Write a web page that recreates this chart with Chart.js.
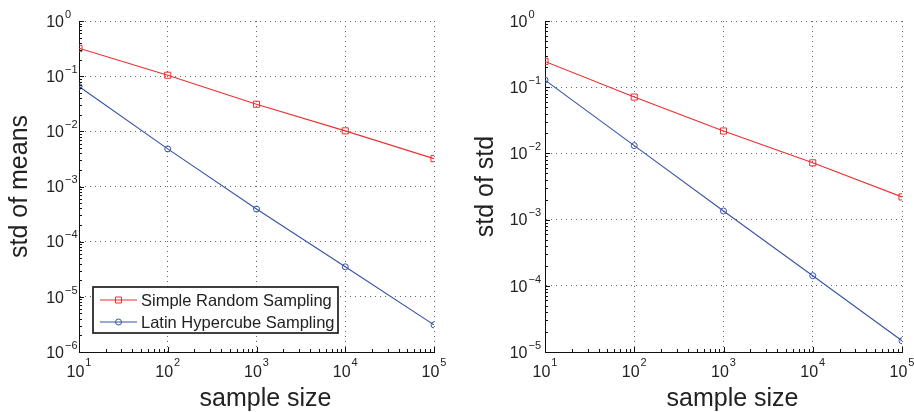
<!DOCTYPE html>
<html>
<head>
<meta charset="utf-8">
<script src="https://cdn.jsdelivr.net/npm/chart.js@4.4.0/dist/chart.umd.min.js"></script>
<style>
  html, body { margin: 0; padding: 0; background: #fff; }
  #wrap { position: relative; width: 914px; height: 412px; }
  canvas { position: absolute; top: 0; }
</style>
</head>
<body>
<div id="wrap">
  <canvas id="chartMeans" width="457" height="412" style="left:0"></canvas>
  <canvas id="chartStd" width="457" height="412" style="left:457px"></canvas>
</div>
<script>
// data
const sampleSizes = [10, 100, 1000, 10000, 100000];
const meansSRS = [0.32, 0.104, 0.031, 0.0102, 0.0032];
const meansLHS = [0.065, 0.0048, 0.00039, 0.000035, 0.0000031];
const stdSRS = [0.245, 0.071, 0.0218, 0.0072, 0.0022];
const stdLHS = [0.128, 0.0131, 0.00135, 0.000142, 0.0000148];

const seriesNames = ['Simple Random Sampling', 'Latin Hypercube Sampling'];
const xTitle = 'sample size';
const xTicks = [10, 100, 1000, 10000, 100000];
const yTicksMeans = [1e-6, 1e-5, 1e-4, 1e-3, 1e-2, 1e-1, 1];
const yTicksStd = [1e-5, 1e-4, 1e-3, 1e-2, 1e-1, 1];

const red = '#ec2f2f';
const blue = '#3653a8';
const textCol = '#222';
const fontFam = '"Liberation Sans", Arial, "DejaVu Sans", sans-serif';

function expOf(v) {
  const e = Math.round(Math.log10(v));
  return e < 0 ? '\u2212' + (-e) : String(e);
}

// small inward tick marks on the left and bottom axes (matlab style)
const innerTicks = {
  id: 'innerTicks',
  afterDraw(chart) {
    const ctx = chart.ctx;
    const xs = chart.scales.x, ys = chart.scales.y;
    const area = chart.chartArea;
    ctx.save();
    ctx.strokeStyle = '#111';
    ctx.lineWidth = 1;
    ctx.beginPath();
    for (let k = Math.floor(Math.log10(xs.min)); k <= Math.log10(xs.max); k++) {
      for (let m = 1; m <= 9; m++) {
        const v = m * Math.pow(10, k);
        if (v < xs.min * 0.999 || v > xs.max * 1.001) continue;
        const px = Math.round(xs.getPixelForValue(v)) + 0.5;
        const len = m === 1 ? 5 : 3;
        ctx.moveTo(px, area.bottom);
        ctx.lineTo(px, area.bottom - len);
      }
    }
    for (let k = Math.floor(Math.log10(ys.min)); k <= Math.log10(ys.max); k++) {
      for (let m = 1; m <= 9; m++) {
        const v = m * Math.pow(10, k);
        if (v < ys.min * 0.999 || v > ys.max * 1.001) continue;
        const py = Math.round(ys.getPixelForValue(v)) + 0.5;
        const len = m === 1 ? 5 : 3;
        ctx.moveTo(area.left, py);
        ctx.lineTo(area.left + len, py);
      }
    }
    ctx.stroke();
    ctx.restore();
  }
};

// power-of-ten tick labels with a raised exponent, plus the x axis title
const powerLabels = {
  id: 'powerLabels',
  afterDraw(chart, args, opts) {
    const ctx = chart.ctx;
    const xs = chart.scales.x, ys = chart.scales.y;
    const area = chart.chartArea;
    const baseFont = '16px ' + fontFam;
    const expFont = '11px ' + fontFam;
    ctx.save();
    ctx.fillStyle = textCol;
    ctx.textBaseline = 'alphabetic';

    ys.ticks.forEach(t => {
      const py = ys.getPixelForValue(t.value);
      const xr = area.left - opts.yGap;
      ctx.font = baseFont;
      ctx.textAlign = 'right';
      ctx.fillText('10', xr, py + 5.7);
      ctx.font = expFont;
      ctx.textAlign = 'left';
      ctx.fillText(expOf(t.value), xr + 1, py - 3.3);
    });

    xs.ticks.forEach(t => {
      const px = xs.getPixelForValue(t.value);
      ctx.font = baseFont;
      const wb = ctx.measureText('10').width;
      ctx.font = expFont;
      const we = ctx.measureText(expOf(t.value)).width;
      const x0 = px - (wb + 1 + we) / 2;
      ctx.font = baseFont;
      ctx.textAlign = 'left';
      ctx.fillText('10', x0, area.bottom + 25);
      ctx.font = expFont;
      ctx.fillText(expOf(t.value), x0 + wb + 1, area.bottom + 13.5);
    });

    ctx.font = '25px ' + fontFam;
    ctx.textAlign = 'center';
    ctx.textBaseline = 'middle';
    ctx.fillText(xTitle, (area.left + area.right) / 2 + 9, 399.5);
    ctx.restore();
  }
};

// boxed legend inside the lower left of the plot
const boxLegend = {
  id: 'boxLegend',
  afterDraw(chart) {
    const ctx = chart.ctx;
    const bx = 93, by = 287, bw = 245, bh = 46;
    ctx.save();
    ctx.fillStyle = '#fff';
    ctx.fillRect(bx, by, bw, bh);
    ctx.strokeStyle = '#111';
    ctx.lineWidth = 1.6;
    ctx.strokeRect(bx, by, bw, bh);
    chart.data.datasets.forEach((ds, i) => {
      const y = by + 13 + i * 22;
      ctx.strokeStyle = ds.borderColor;
      ctx.lineWidth = 1;
      ctx.beginPath();
      ctx.moveTo(100, y);
      ctx.lineTo(137, y);
      ctx.stroke();
      ctx.beginPath();
      if (ds.pointStyle === 'rect') ctx.rect(115.5, y - 3, 6, 6);
      else ctx.arc(118.5, y, 3, 0, Math.PI * 2);
      ctx.stroke();
      ctx.fillStyle = textCol;
      ctx.font = '16.5px ' + fontFam;
      ctx.textBaseline = 'middle';
      ctx.textAlign = 'left';
      ctx.fillText(ds.label, 141, y + 1);
    });
    ctx.restore();
  }
};

function makeChart(id, srs, lhs, yTicks, yTitle, yWidth, yGap, titlePad, padRight, extraPlugins) {
  const yMin = yTicks[0], yMax = yTicks[yTicks.length - 1];
  return new Chart(document.getElementById(id), {
    type: 'line',
    data: {
      datasets: [
        {
          label: seriesNames[0],
          data: sampleSizes.map((x, i) => ({x: x, y: srs[i]})),
          borderColor: red,
          backgroundColor: 'rgba(0,0,0,0)',
          borderWidth: 1.1,
          pointStyle: 'rect',
          pointRadius: 4.3,
          pointBorderWidth: 1,
          pointBorderColor: red,
          pointBackgroundColor: 'rgba(0,0,0,0)'
        },
        {
          label: seriesNames[1],
          data: sampleSizes.map((x, i) => ({x: x, y: lhs[i]})),
          borderColor: blue,
          backgroundColor: 'rgba(0,0,0,0)',
          borderWidth: 1.1,
          pointStyle: 'circle',
          pointRadius: 3,
          pointBorderWidth: 1,
          pointBorderColor: blue,
          pointBackgroundColor: 'rgba(0,0,0,0)'
        }
      ]
    },
    options: {
      responsive: false,
      animation: false,
      events: [],
      layout: { padding: { left: 0, right: padRight, top: 21, bottom: 0 } },
      plugins: {
        legend: { display: false },
        tooltip: { enabled: false },
        powerLabels: { yGap: yGap }
      },
      scales: {
        x: {
          type: 'logarithmic',
          min: xTicks[0],
          max: xTicks[xTicks.length - 1],
          afterBuildTicks: s => { s.ticks = xTicks.map(v => ({value: v})); },
          afterFit: s => { s.height = 60; },
          grid: { color: '#666', lineWidth: 1, drawTicks: false },
          border: { display: true, color: '#111', width: 1, dash: [1, 4] },
          ticks: { display: false }
        },
        y: {
          type: 'logarithmic',
          min: yMin,
          max: yMax,
          afterBuildTicks: s => { s.ticks = yTicks.map(v => ({value: v})); },
          afterFit: s => { s.width = yWidth; },
          grid: { color: '#666', lineWidth: 1, drawTicks: false },
          border: { display: true, color: '#111', width: 1, dash: [1, 4] },
          ticks: { display: false },
          title: {
            display: true, text: yTitle, color: textCol,
            font: { family: fontFam, size: 25, lineHeight: 1.0 },
            padding: { top: titlePad, bottom: 0 }
          }
        }
      }
    },
    plugins: [innerTicks, powerLabels].concat(extraPlugins)
  });
}

makeChart('chartMeans', meansSRS, meansLHS, yTicksMeans, 'std of means', 79, 15, 8, 23, [boxLegend]);
makeChart('chartStd', stdSRS, stdLHS, yTicksStd, 'std of std', 88, 17.5, 17, 12, []);
</script>
</body>
</html>
